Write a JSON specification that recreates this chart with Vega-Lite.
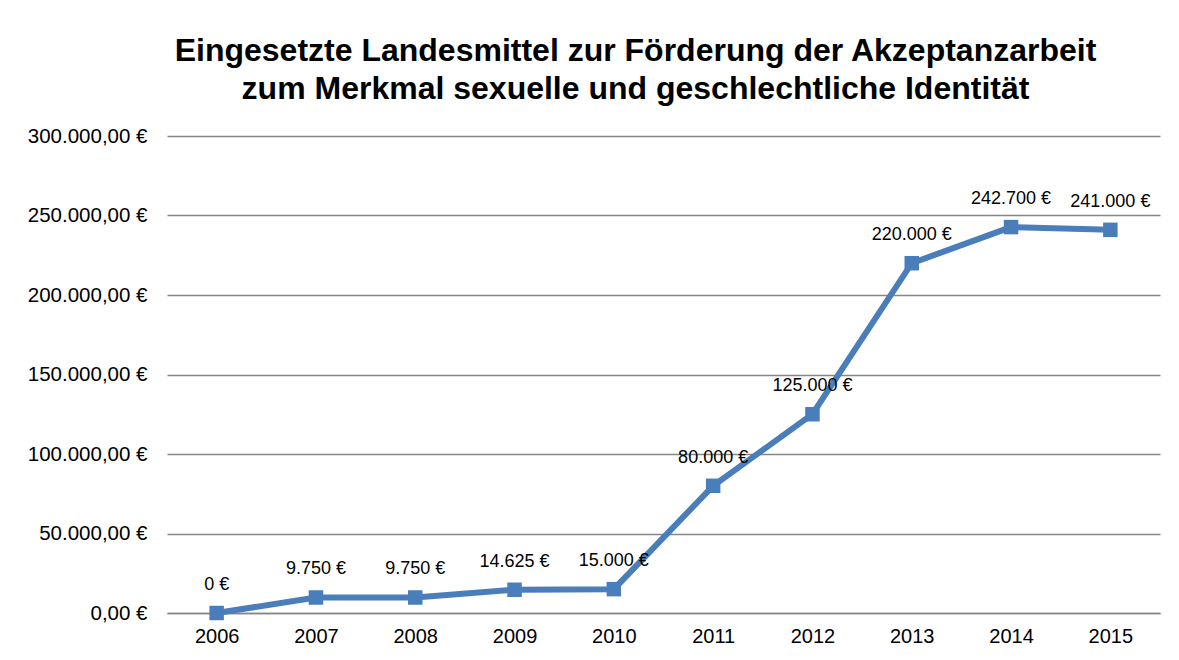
{
  "$schema": "https://vega.github.io/schema/vega-lite/v6.json",
  "autosize": "none",
  "width": 993,
  "height": 477,
  "padding": {"left": 167, "top": 136, "right": 19, "bottom": 47},
  "background": "white",
  "config": {
    "font": "Liberation Sans",
    "view": {"stroke": null},
    "locale": {
      "number": {"decimal": ",", "thousands": ".", "grouping": [3], "currency": ["", " €"]}
    }
  },
  "title": {
    "text": ["Eingesetzte Landesmittel zur Förderung der Akzeptanzarbeit", "zum Merkmal sexuelle und geschlechtliche Identität"],
    "font": "Liberation Sans",
    "fontSize": 32,
    "fontWeight": "bold",
    "color": "#000000",
    "anchor": "middle",
    "dx": -28,
    "lineHeight": 38,
    "offset": 20
  },
  "data": {
    "values": [
      {"year": "2006", "amount": 0},
      {"year": "2007", "amount": 9750},
      {"year": "2008", "amount": 9750},
      {"year": "2009", "amount": 14625},
      {"year": "2010", "amount": 15000},
      {"year": "2011", "amount": 80000},
      {"year": "2012", "amount": 125000},
      {"year": "2013", "amount": 220000},
      {"year": "2014", "amount": 242700},
      {"year": "2015", "amount": 241000}
    ]
  },
  "encoding": {
    "x": {
      "field": "year",
      "type": "ordinal",
      "scale": {"type": "point", "padding": 0.5},
      "axis": {
        "title": null,
        "labelAngle": 0,
        "labelFontSize": 20,
        "labelColor": "#000000",
        "labelPadding": 13,
        "domainColor": "#868686",
        "domainWidth": 1.5,
        "ticks": false,
        "grid": false
      }
    },
    "y": {
      "field": "amount",
      "type": "quantitative",
      "scale": {"domain": [0, 300000], "nice": false},
      "axis": {
        "title": null,
        "values": [0, 50000, 100000, 150000, 200000, 250000, 300000],
        "format": "$,.2f",
        "labelFontSize": 20.5,
        "labelColor": "#000000",
        "labelPadding": 20,
        "domain": false,
        "ticks": false,
        "grid": true,
        "gridColor": "#868686",
        "gridWidth": 1.5
      }
    }
  },
  "layer": [
    {
      "mark": {"type": "line", "color": "#4a7ebb", "strokeWidth": 6, "strokeJoin": "miter"}
    },
    {
      "mark": {"type": "point", "shape": "square", "filled": true, "size": 210, "color": "#4a7ebb", "opacity": 1}
    },
    {
      "mark": {"type": "text", "dy": -28, "fontSize": 18, "color": "#000000"},
      "encoding": {
        "text": {"field": "amount", "type": "quantitative", "format": "$,.0f"}
      }
    }
  ]
}
